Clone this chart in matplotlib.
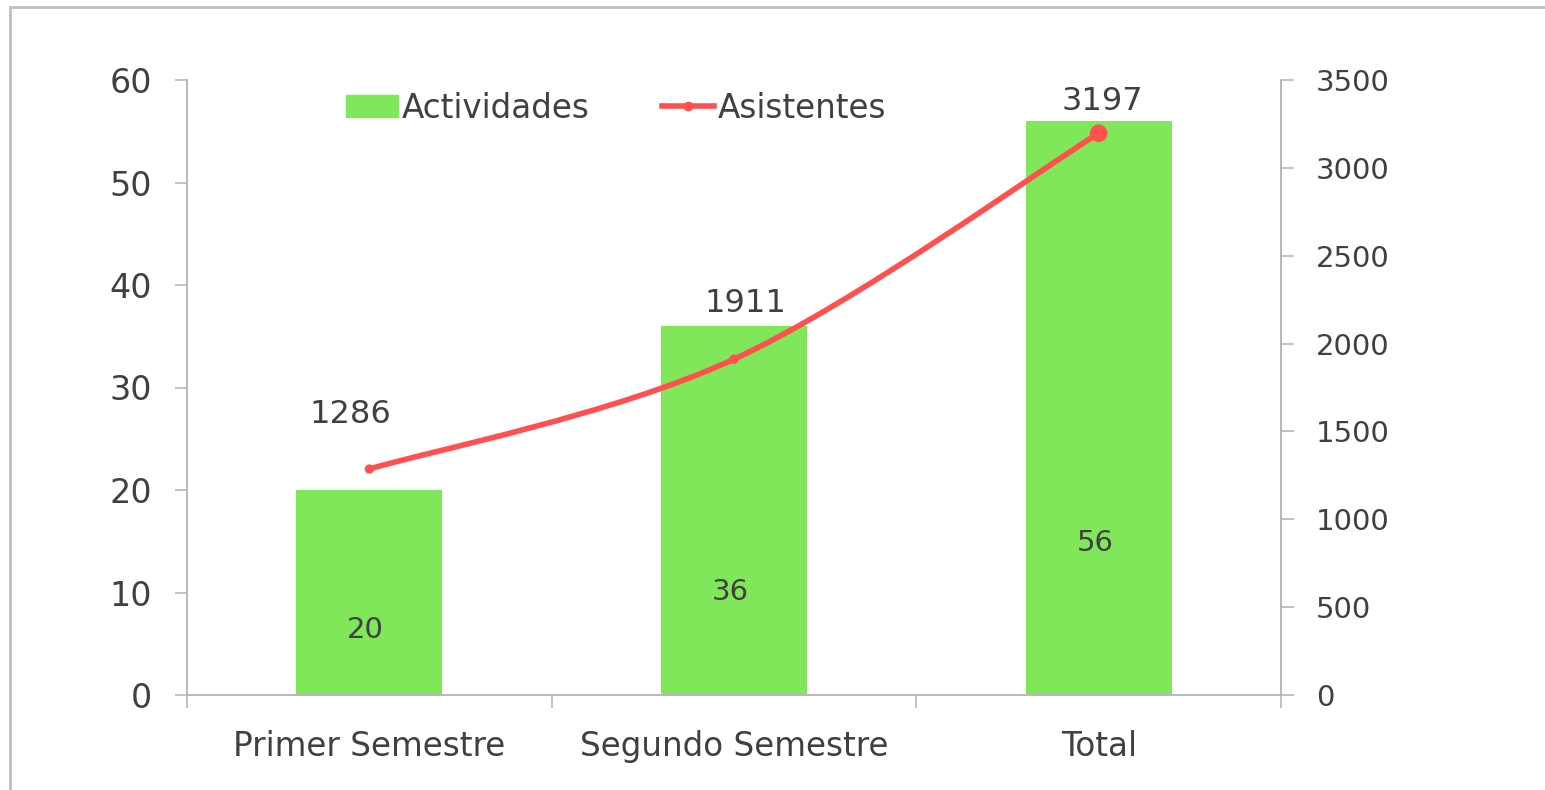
import numpy as np
import matplotlib
matplotlib.use("Agg")
import matplotlib.pyplot as plt
from matplotlib.path import Path
from matplotlib.patches import PathPatch, Rectangle
from matplotlib.lines import Line2D

# data
categories = ["Primer Semestre", "Segundo Semestre", "Total"]
actividades = [20, 36, 56]
asistentes = [1286, 1911, 3197]

left_ticks = [0, 10, 20, 30, 40, 50, 60]
right_ticks = [0, 500, 1000, 1500, 2000, 2500, 3000, 3500]

# colours
GREEN = "#80E65A"
RED = "#FF4F4F"
TXT = "#404040"
GRID = "#B8B8B8"

plt.rcParams['font.family'] = ['DejaVu Sans']

fig = plt.figure(figsize=(15.45, 7.9), dpi=100)
ax = fig.add_axes([187/1545, 1-695/790, (1281-187)/1545, (695-80)/790])
ax2 = ax.twinx()

x = np.arange(len(categories))

#bars on the left axis
ax.bar(x, actividades, width=0.4, color=GREEN, zorder=2)
ax.set_xlim(-0.5, 2.5)
ax.set_ylim(0, 60)
ax.set_yticks(left_ticks)
ax.set_xticks([-0.5, 0.5, 1.5, 2.5])
ax.set_xticklabels([])
ax.set_xticks(x, minor=True)
ax.set_xticklabels(categories, minor=True)
ax.tick_params(axis='x', which='minor', length=0, pad=25, labelsize=23.5, labelcolor=TXT)
ax.tick_params(axis='x', which='major', length=9, width=1.2, color=GRID)
ax.tick_params(axis='y', length=9, width=1.2, color=GRID, pad=16, labelsize=24, labelcolor=TXT)

# labels inside the bars (height where the label sits)
bar_label_y = [6.3, 10.0, 14.8]
for xi, v, ly in zip(x, actividades, bar_label_y):
    ax.text(xi - 0.01, ly, str(v), ha='center', va='center', fontsize=21, color=TXT, zorder=3)

for side in ['top']:
    ax.spines[side].set_visible(False)
    ax2.spines[side].set_visible(False)
for side in ['left', 'bottom', 'right']:
    ax.spines[side].set_color(GRID)
    ax.spines[side].set_linewidth(1.2)
    ax2.spines[side].set_color(GRID)
    ax2.spines[side].set_linewidth(1.2)

# smoothed line (Excel style bezier) on the right axis
ax2.set_ylim(0, 3500)
ax2.set_yticks(right_ticks)
ax2.tick_params(axis='y', length=9, width=1.2, color=GRID, pad=16, labelsize=21, labelcolor=TXT)

pts = np.column_stack([x, asistentes]).astype(float)
ext = np.vstack([pts[0], pts, pts[-1]])
verts = [tuple(pts[0])]
codes = [Path.MOVETO]
for i in range(len(pts) - 1):
    p0, p1, p2, p3 = ext[i], ext[i+1], ext[i+2], ext[i+3]
    c1 = p1 + (p2 - p0) / 6.0
    c2 = p2 - (p3 - p1) / 6.0
    verts += [tuple(c1), tuple(c2), tuple(p2)]
    codes += [Path.CURVE4] * 3
ax2.add_patch(PathPatch(Path(verts, codes), facecolor='none', edgecolor=RED,
                        lw=4, capstyle='round', zorder=4))
ax2.scatter(x, asistentes, s=[45, 45, 160], color=RED, zorder=5, linewidths=0)

# value labels above the line points (offsets in pixels)
lab_off = [(-19, 55), (11, 56), (4, 32)]
for xi, v, off in zip(x, asistentes, lab_off):
    ax2.annotate(str(v), (xi, v), xytext=(off[0]*0.72, off[1]*0.72), textcoords='offset points',
                 ha='center', va='center', fontsize=23, color=TXT)

# legend
handles = [Rectangle((0, 0), 1, 1, color=GREEN),
           Line2D([], [], color=RED, lw=4, marker='o', markersize=6)]
fig.legend(handles, ["Actividades", "Asistentes"], loc='center', ncol=2,
           bbox_to_anchor=(616/1545, 1-108/790), frameon=False, fontsize=23.5,
           labelcolor=TXT, handlelength=1.6, handleheight=0.66, handletextpad=0.12,
           columnspacing=2.2, borderpad=0)

# outer frame
fig.patches.append(Rectangle((10/1545, -0.1), 1.2, 1 - 7/790 + 0.1, transform=fig.transFigure,
                             fill=False, edgecolor='#BEBEBE', lw=2))

fig.savefig("out.png", dpi=100)
